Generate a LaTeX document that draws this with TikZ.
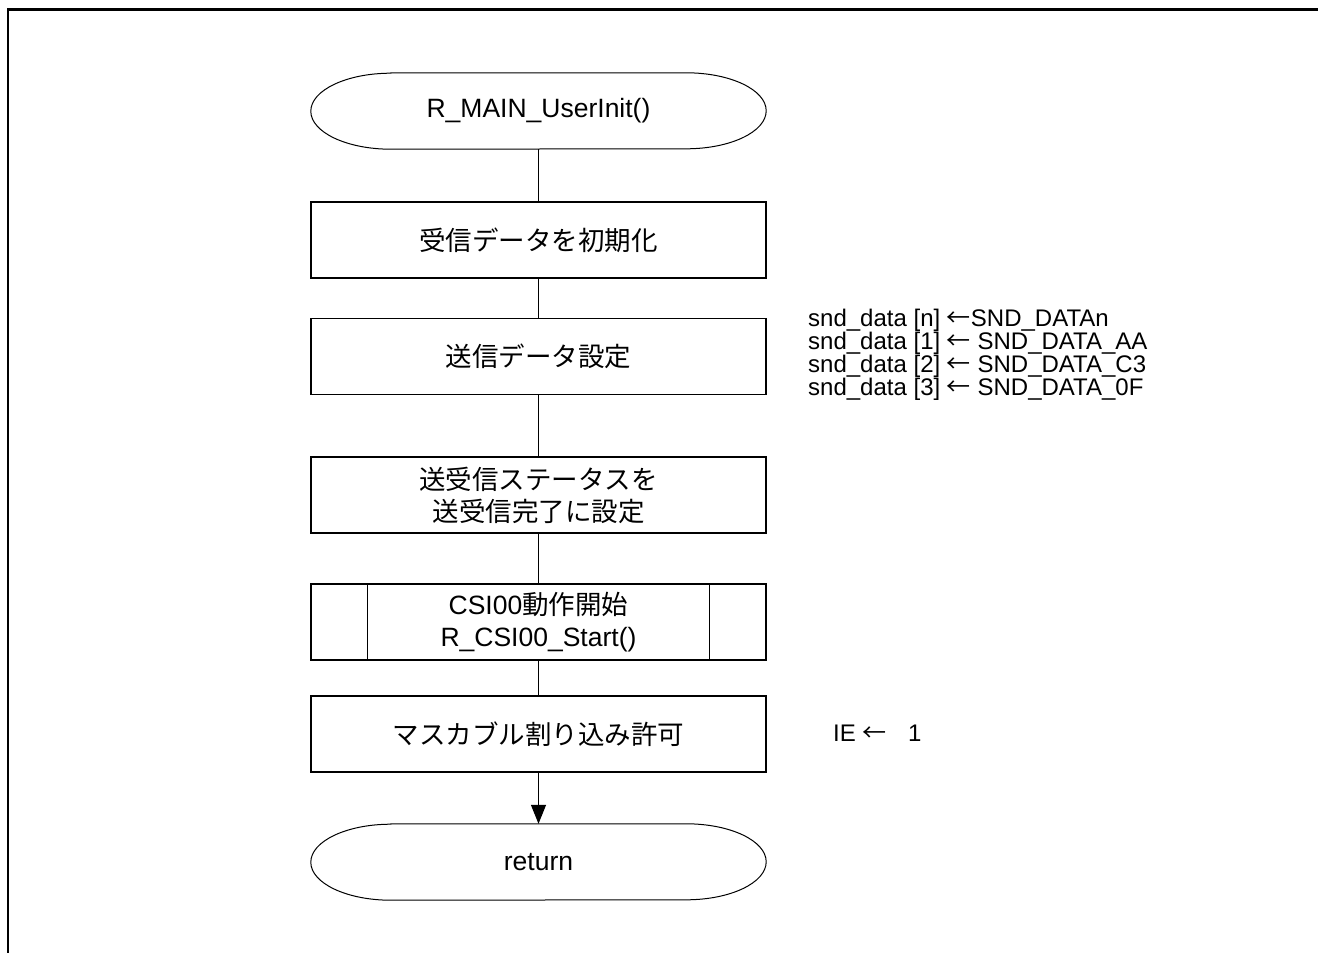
\documentclass[tikz,border=0pt]{standalone}
\usepackage{fontspec}
\setmainfont{Liberation Sans}
\newfontfamily\jp{Noto Sans CJK JP}
\newcommand{\larr}{{\jp ←}}
\usetikzlibrary{arrows.meta}
\tikzset{
  boxnode/.style={draw, line width=1.3pt, minimum width=455pt, minimum height=76pt, inner sep=0pt, align=center, font=\fontsize{26.5}{32}\selectfont},
  termnode/.style={minimum width=455pt, minimum height=76pt, inner sep=0pt, align=center, font=\fontsize{26.5}{32}\selectfont},
  termline/.style={line width=1pt},
  flow/.style={line width=1.3pt},
  note/.style={inner sep=0pt, align=left, anchor=west, font=\fontsize{24}{23}\selectfont},
  frameline/.style={line width=2.5pt}
}
\begin{document}
\begin{tikzpicture}[x=1pt,y=1pt]
\useasboundingbox (0,0) rectangle (1318,-953);
% frame
\coordinate (fa) at (8,-953);
\coordinate (fb) at (8,-9.5);
\coordinate (fc) at (1318,-9.5);
\draw[frameline] (fa) -- (fb) -- (fc);

% nodes
\node[termnode] (start) at (538.5,-111) {R\_MAIN\_UserInit()};
\draw[termline] ([xshift=80pt]start.north west) -- ([xshift=-80pt]start.north east)
  arc[start angle=90, end angle=-90, x radius=80pt, y radius=38pt]
  -- ([xshift=80pt]start.south west)
  arc[start angle=270, end angle=90, x radius=80pt, y radius=38pt] -- cycle;

\node[boxnode] (b1) at (538.5,-240) {{\jp 受信データを初期化}};
\node[boxnode] (b2) at (538.5,-356.5) {{\jp 送信データ設定}};
\node[boxnode] (b3) at (538.5,-495) {{\jp 送受信ステータスを}\\{\jp 送受信完了に設定}};
\node[boxnode] (b4) at (538.5,-622) {CSI00{\jp 動作開始}\\R\_CSI00\_Start()};
\draw[flow] ([xshift=57pt]b4.north west) -- ([xshift=57pt]b4.south west);
\draw[flow] ([xshift=-57pt]b4.north east) -- ([xshift=-57pt]b4.south east);
\node[boxnode] (b5) at (538.5,-734) {{\jp マスカブル割り込み許可}};

\node[termnode] (ret) at (538.5,-862) {return};
\draw[termline] ([xshift=80pt]ret.north west) -- ([xshift=-80pt]ret.north east)
  arc[start angle=90, end angle=-90, x radius=80pt, y radius=38pt]
  -- ([xshift=80pt]ret.south west)
  arc[start angle=270, end angle=90, x radius=80pt, y radius=38pt] -- cycle;

% connectors
\draw[flow] (start.south) -- (b1.north);
\draw[flow] (b1.south) -- (b2.north);
\draw[flow] (b2.south) -- (b3.north);
\draw[flow] (b3.south) -- (b4.north);
\draw[flow] (b4.south) -- (b5.north);
\draw[flow, -{Triangle[width=15pt,length=19pt]}] (b5.south) -- (ret.north);

% notes
\node[note] (n1) at (808,-354.5) {snd\_data [n] \larr SND\_DATAn\\snd\_data [1] \larr\ SND\_DATA\_AA\\snd\_data [2] \larr\ SND\_DATA\_C3\\snd\_data [3] \larr\ SND\_DATA\_0F};
\node[note] (n2) at (833,-733) {IE \larr\hspace{0.9em}1};
\end{tikzpicture}
\end{document}
